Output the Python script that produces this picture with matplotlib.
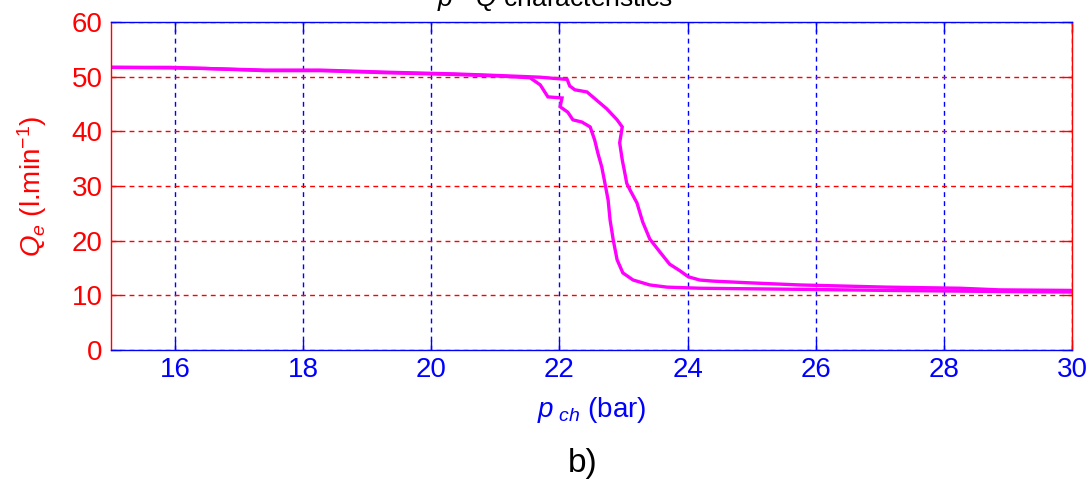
import matplotlib
matplotlib.use("Agg")
import matplotlib.pyplot as plt

plt.rcParams['font.family'] = ['Liberation Sans', 'DejaVu Sans']
plt.rcParams['mathtext.fontset'] = 'custom'
plt.rcParams['mathtext.rm'] = 'Liberation Sans'
plt.rcParams['mathtext.it'] = 'Liberation Sans:italic'
plt.rcParams['mathtext.bf'] = 'Liberation Sans:bold'

# Branch with the later (higher-pressure) drop
p_up = [15.00, 15.92, 16.47, 17.40, 18.26, 19.35, 20.37, 21.07, 21.70, 21.90,
        22.12, 22.16, 22.24, 22.43, 22.52, 22.74, 22.90, 22.98, 22.94, 22.98,
        23.02, 23.05, 23.10, 23.21, 23.30, 23.41, 23.57, 23.72, 23.88, 24.01,
        24.19, 24.40, 24.94, 25.75, 27.11, 28.25, 28.87, 30.00]
q_up = [51.7, 51.7, 51.5, 51.2, 51.2, 50.8, 50.5, 50.2, 49.9, 49.7,
        49.5, 48.3, 47.6, 47.2, 46.3, 44.1, 42.1, 40.8, 37.9, 34.8,
        32.4, 30.5, 29.3, 26.9, 23.4, 20.3, 17.9, 15.7, 14.5, 13.4,
        12.8, 12.6, 12.3, 11.9, 11.5, 11.3, 11.0, 10.9]

# Branch with the earlier (lower-pressure) drop
p_dn = [15.00, 15.92, 16.47, 17.40, 18.26, 19.35, 20.37, 21.07, 21.54, 21.70,
        21.82, 22.04, 22.01, 22.13, 22.21, 22.35, 22.48, 22.55, 22.60, 22.66,
        22.71, 22.76, 22.79, 22.84, 22.90, 22.99, 23.15, 23.41, 23.68, 24.19,
        24.94, 25.75, 27.11, 28.87, 30.00]
q_dn = [51.7, 51.6, 51.5, 51.1, 51.1, 50.7, 50.4, 50.1, 49.8, 48.5,
        46.3, 46.1, 44.5, 43.5, 42.1, 41.7, 40.8, 38.4, 36.0, 33.5,
        30.5, 27.4, 23.8, 20.1, 16.5, 14.1, 12.8, 11.9, 11.5, 11.3,
        11.2, 11.1, 10.9, 10.7, 10.6]

x_ticks = [16, 18, 20, 22, 24, 26, 28, 30]
y_ticks = [0, 10, 20, 30, 40, 50, 60]

RED = '#ff0000'
BLUE = '#0000ff'
MAGENTA = '#ff00ff'

fig = plt.figure(figsize=(10.92, 4.79), dpi=100)
ax = fig.add_axes([0.1016, 0.2693, 0.8801, 0.6848])

ax.plot(p_up, q_up, color=MAGENTA, lw=2.4, solid_joinstyle='miter')
ax.plot(p_dn, q_dn, color=MAGENTA, lw=2.4, solid_joinstyle='miter')

ax.set_xlim(15, 30)
ax.set_ylim(0, 60)
ax.set_xticks(x_ticks)
ax.set_yticks(y_ticks)

ax.tick_params(axis='both', direction='in', length=7, width=1.0,
               top=True, right=True, labelsize=20)
ax.tick_params(axis='x', colors=BLUE, pad=5)
ax.tick_params(axis='y', colors=RED, pad=6)

for side in ('top', 'bottom'):
    ax.spines[side].set_color(BLUE)
for side in ('left', 'right'):
    ax.spines[side].set_color(RED)
for s in ax.spines.values():
    s.set_linewidth(1.0)

ax.xaxis.grid(True, color=BLUE, linestyle=(0, (3.5, 3.0)), linewidth=1.0)
ax.yaxis.grid(True, color=RED, linestyle=(0, (3.5, 3.0)), linewidth=1.0)
ax.set_axisbelow(True)

ax.set_xlabel(r'$p_{\ ch}$ (bar)', color=BLUE, fontsize=20, labelpad=9)
ax.set_ylabel(r'$Q_e$ (l.min$^{-1}$)', color=RED, fontsize=20, labelpad=16)

fig.text(0.400, 1 - 6 / 479, r'$p$ - $Q$ characteristics', fontsize=19,
         ha='left', va='baseline', color='black')
fig.text(0.534, 0.033, 'b)', fontsize=24, ha='center', va='center',
         color='black')

fig.savefig('out.png', dpi=100)
